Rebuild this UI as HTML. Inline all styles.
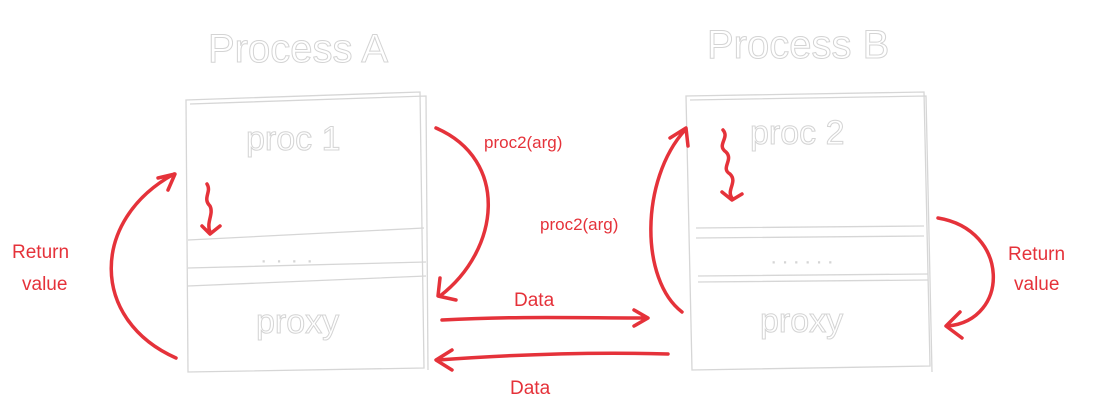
<!DOCTYPE html>
<html><head><style>
html,body{margin:0;padding:0;background:#fff;width:1093px;height:411px;overflow:hidden}
svg{display:block}
.g{fill:none;stroke:#d6d6d6;stroke-width:1.3}
.gt{fill:#fff;stroke:#d4d4d4;stroke-width:1;font-family:"Liberation Sans",sans-serif}
.r{fill:none;stroke:#e5323a;stroke-width:3.5;stroke-linecap:round;stroke-linejoin:round}
.rt{fill:#e5323a;font-family:"Liberation Sans",sans-serif}
</style></head><body>
<svg width="1093" height="411" viewBox="0 0 1093 411">
<text class="gt" x="208" y="62" font-size="40">Process A</text>
<text class="gt" x="707" y="58" font-size="40">Process B</text>
<!-- Box A -->
<path class="g" d="M186 100 L420 92 L424 368 L188 372 Z"/>
<path class="g" d="M190 104 L426 96 L428 370"/>
<path class="g" d="M188 240 L424 228 M188 268 L426 262 M188 286 L426 276"/>
<text class="gt" x="246" y="150" font-size="34">proc 1</text>
<text class="gt" x="262" y="262" font-size="12" letter-spacing="12">....</text>
<text class="gt" x="256" y="333" font-size="34">proxy</text>
<!-- Box B -->
<path class="g" d="M686 96 L924 92 L930 366 L692 370 Z"/>
<path class="g" d="M690 100 L926 96 L932 372"/>
<path class="g" d="M696 228 L924 226 M696 238 L924 236 M698 276 L928 274 M698 282 L928 280"/>
<text class="gt" x="750" y="144" font-size="34">proc 2</text>
<text class="gt" x="772" y="263" font-size="12" letter-spacing="8">......</text>
<text class="gt" x="760" y="332" font-size="34">proxy</text>
<!-- red arrows -->
<path class="r" d="M207 184 C212 192 202 198 210 206 C214 214 206 222 210 232 M202 226 L210 234 L220 226"/>
<path class="r" d="M723 130 C730 138 716 145 726 152 C734 160 720 168 730 174 C738 182 726 190 732 198 M722 192 L732 200 L742 194"/>
<path class="r" d="M176 358 C90 320 90 220 174 174 M158 178 L175 174 L168 190"/>
<path class="r" d="M436 128 C510 160 500 250 440 296 M440 278 L438 296 L456 300"/>
<path class="r" d="M682 312 C640 280 640 180 685 130 M670 138 L686 128 L688 146"/>
<path class="r" d="M938 218 C1010 230 1010 320 948 326 M960 312 L946 326 L962 338"/>
<path class="r" d="M442 320 C520 316 580 318 646 318 M634 310 L648 318 L634 326"/>
<path class="r" d="M668 354 C600 352 520 354 438 360 M452 350 L436 360 L452 370"/>
<text class="rt" x="484" y="148" font-size="17">proc2(arg)</text>
<text class="rt" x="540" y="230" font-size="17">proc2(arg)</text>
<text class="rt" x="12" y="258" font-size="19">Return</text>
<text class="rt" x="22" y="290" font-size="19">value</text>
<text class="rt" x="1008" y="260" font-size="19">Return</text>
<text class="rt" x="1014" y="290" font-size="19">value</text>
<text class="rt" x="514" y="306" font-size="19">Data</text>
<text class="rt" x="510" y="394" font-size="19">Data</text>
</svg>
</body></html>
